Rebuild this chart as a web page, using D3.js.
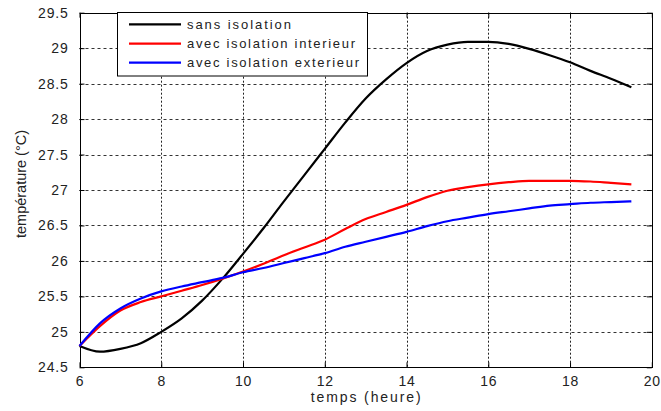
<!DOCTYPE html>
<html>
<head>
<meta charset="utf-8">
<script src="https://cdn.jsdelivr.net/npm/d3@7"></script>
<style>
  html, body { margin: 0; padding: 0; background: #fff; }
  svg { display: block; font-family: "Liberation Sans", Arial, sans-serif; }
</style>
</head>
<body>
<svg id="chart" width="661" height="411"></svg>
<script>
const hours = [6, 6.5, 7, 7.5, 8, 8.5, 9, 9.5, 10, 10.5, 11, 11.5, 12, 12.5, 13, 13.5, 14, 14.5, 15, 15.5, 16, 16.5, 17, 17.5, 18, 18.5, 19, 19.5];
const sansIsolation = [24.80, 24.72, 24.76, 24.84, 25.00, 25.19, 25.44, 25.75, 26.10, 26.46, 26.84, 27.21, 27.58, 27.95, 28.29, 28.56, 28.79, 28.96, 29.05, 29.09, 29.09, 29.06, 28.99, 28.90, 28.80, 28.68, 28.57, 28.45];
const isolationInterieur = [24.80, 25.08, 25.30, 25.42, 25.50, 25.58, 25.66, 25.75, 25.85, 25.96, 26.08, 26.19, 26.30, 26.45, 26.59, 26.69, 26.79, 26.90, 26.99, 27.04, 27.08, 27.11, 27.13, 27.13, 27.13, 27.12, 27.10, 27.08];
const isolationExterieur = [24.80, 25.12, 25.33, 25.47, 25.57, 25.64, 25.70, 25.76, 25.84, 25.90, 25.97, 26.04, 26.11, 26.20, 26.27, 26.34, 26.41, 26.49, 26.56, 26.61, 26.66, 26.70, 26.74, 26.78, 26.80, 26.82, 26.83, 26.84];
const seriesNames = ["sans isolation", "avec isolation interieur", "avec isolation exterieur"];
const seriesColors = ["#000000", "#ff0000", "#0000ff"];
const xTicks = [6, 8, 10, 12, 14, 16, 18, 20];
const yTicks = [24.5, 25, 25.5, 26, 26.5, 27, 27.5, 28, 28.5, 29, 29.5];
const xLabel = "temps (heure)";
const yLabel = "température (°C)";

const svg = d3.select("#chart");
const L = 79.5, R = 651.8, T = 12.7, B = 367.3;
const x = d3.scaleLinear().domain([6, 20]).range([L, R]);
const y = d3.scaleLinear().domain([24.5, 29.5]).range([B, T]);

// grid
const grid = svg.append("g");
grid.selectAll("line.h").data(yTicks.slice(1, -1)).enter().append("line")
  .attr("x1", L).attr("x2", R).attr("y1", d => Math.round(y(d)) + 0.5).attr("y2", d => Math.round(y(d)) + 0.5)
  .attr("stroke", "#333").attr("stroke-width", 1).attr("stroke-dasharray", "3,3");
grid.selectAll("line.v").data(xTicks.slice(1, -1)).enter().append("line")
  .attr("y1", T).attr("y2", B).attr("x1", d => Math.round(x(d)) + 0.5).attr("x2", d => Math.round(x(d)) + 0.5)
  .attr("stroke", "#222").attr("stroke-width", 1).attr("stroke-dasharray", "2,2");

// axes (inner ticks, box)
const fontTick = 14;
const xAxisB = d3.axisBottom(x).tickValues(xTicks).tickSize(-5).tickPadding(9).tickFormat(d3.format("d"));
const xAxisT = d3.axisTop(x).tickValues(xTicks).tickSize(-5).tickFormat("");
const yAxisL = d3.axisLeft(y).tickValues(yTicks).tickSize(-5).tickPadding(11).tickFormat(d => String(d));
const yAxisR = d3.axisRight(y).tickValues(yTicks).tickSize(-5).tickFormat("");

function style(g) {
  g.select(".domain").remove();
  g.selectAll(".tick line").attr("stroke", "#000");
  g.selectAll("text").attr("fill", "#222").attr("font-size", fontTick).attr("letter-spacing", "0.8px")
    .attr("font-family", '"Liberation Sans", Arial, sans-serif');
}
svg.append("g").attr("transform", `translate(0,${B})`).call(xAxisB).call(style);
svg.append("g").attr("transform", `translate(0,${T})`).call(xAxisT).call(style);
svg.append("g").attr("transform", `translate(${L},0)`).call(yAxisL).call(style);
svg.append("g").attr("transform", `translate(${R},0)`).call(yAxisR).call(style);

svg.append("rect").attr("x", Math.round(L) + 0.5).attr("y", Math.round(T) + 0.5)
  .attr("width", Math.round(R) - Math.round(L)).attr("height", Math.round(B) - Math.round(T))
  .attr("fill", "none").attr("stroke", "#000").attr("stroke-width", 1);

// lines
const allSeries = [sansIsolation, isolationInterieur, isolationExterieur];
const line = d3.line().x((d, i) => x(hours[i])).y(d => y(d)).curve(d3.curveMonotoneX);
allSeries.forEach((s, k) => {
  svg.append("path").datum(s).attr("d", line).attr("fill", "none")
    .attr("stroke", seriesColors[k]).attr("stroke-width", 2.2).attr("stroke-linejoin", "round");
});

// legend
const lg = svg.append("g");
lg.append("rect").attr("x", 117.5).attr("y", 12.5).attr("width", 250).attr("height", 63.5)
  .attr("fill", "#fff").attr("stroke", "#000").attr("stroke-width", 1);
const legY = [24.3, 43.7, 62.7];
const legW = [104, 168, 172];
seriesNames.forEach((n, k) => {
  lg.append("line").attr("x1", 129).attr("x2", 181).attr("y1", legY[k]).attr("y2", legY[k])
    .attr("stroke", seriesColors[k]).attr("stroke-width", 2.2);
  lg.append("text").attr("x", 187).attr("y", legY[k] + 4.5).attr("font-size", 13)
    .attr("fill", "#222").attr("textLength", legW[k]).attr("lengthAdjust", "spacing").text(n);
});

// axis labels
svg.append("text").attr("x", (L + R) / 2).attr("y", 402).attr("text-anchor", "middle")
  .attr("font-size", 14).attr("fill", "#222").attr("textLength", 110).attr("lengthAdjust", "spacing").text(xLabel);
svg.append("text").attr("transform", `translate(26,184) rotate(-90)`).attr("text-anchor", "middle")
  .attr("font-size", 14).attr("fill", "#222").attr("textLength", 108).attr("lengthAdjust", "spacingAndGlyphs").text(yLabel);
</script>
</body>
</html>
